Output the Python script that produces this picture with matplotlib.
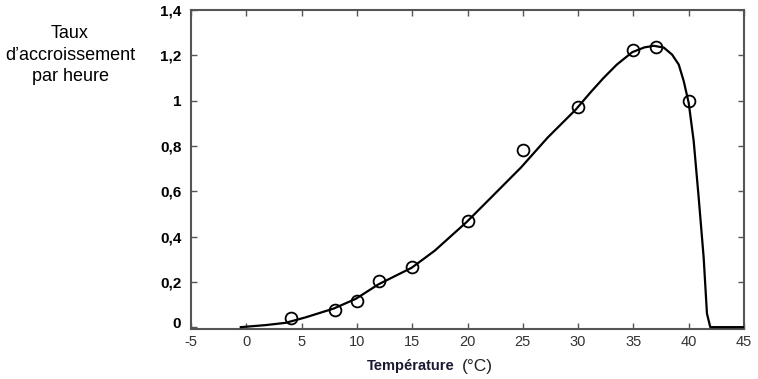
import matplotlib
matplotlib.use("Agg")
import matplotlib.pyplot as plt
from matplotlib.transforms import ScaledTranslation

# Measured points (temperature °C, growth rate per hour)
temp_points = [4, 8, 10, 12, 15, 20, 25, 30, 35, 37, 40]
rate_points = [0.04, 0.075, 0.115, 0.205, 0.265, 0.468, 0.78, 0.972, 1.222, 1.236, 1.0]

# Fitted curve, values
temp_curve = [-0.5, 0.0, 1.75, 3.55, 5.35, 7.9, 9.9, 11.95, 14.95, 17.05, 18.55, 19.9,
              22.15, 24.84, 27.25, 29.8, 31.1, 32.3, 33.5, 34.9, 36.0, 36.85, 37.75,
              38.5, 39.1, 39.55, 40.0, 40.45, 40.9, 41.35, 41.65, 41.95, 45.0]
rate_curve = [0.0, 0.002, 0.009, 0.019, 0.043, 0.082, 0.125, 0.189, 0.262, 0.338, 0.404, 0.463,
              0.573, 0.705, 0.837, 0.961, 1.035, 1.1, 1.159, 1.214, 1.235, 1.242, 1.234,
              1.203, 1.159, 1.086, 0.99, 0.822, 0.573, 0.309, 0.06, 0.0, 0.0]

x_ticks = [-5, 0, 5, 10, 15, 20, 25, 30, 35, 40, 45]
y_ticks = [0, 0.2, 0.4, 0.6, 0.8, 1.0, 1.2, 1.4]
y_tick_labels = ["0", "0,2", "0,4", "0,6", "0,8", "1", "1,2", "1,4"]

fig = plt.figure(figsize=(7.58, 3.79), dpi=100)
ax = fig.add_axes([191 / 758, 1 - 328.5 / 379, (744 - 191) / 758, (328.5 - 10) / 379])

ax.plot(temp_curve, rate_curve, color="black", lw=1.6, solid_joinstyle="round", zorder=3)
ax.plot(temp_points, rate_points, linestyle="none", marker="o", markersize=8.5,
        markerfacecolor="none", markeredgecolor="black", markeredgewidth=1.3, zorder=4)

ax.set_xlim(-5, 44.8)
ax.set_ylim(-0.006, 1.395)

ax.set_xticks(x_ticks)
ax.set_xticklabels([str(t) for t in x_ticks], family="Liberation Sans", fontsize=10.5, color="#333333")
ax.set_yticks(y_ticks)
ax.set_yticklabels(y_tick_labels, family="Liberation Sans", fontsize=11, fontweight="bold", color="black")

ax.tick_params(axis="both", direction="in", length=4, width=1, color="#555555",
               top=True, right=True, labeltop=False, labelright=False)
ax.tick_params(axis="x", pad=5)
ax.tick_params(axis="y", pad=7)
for s in ax.spines.values():
    s.set_color("#555555")
    s.set_linewidth(1.5)

# the "0" label sits a little above its tick in the reference
zero_lbl = ax.get_yticklabels()[0]
zero_lbl.set_transform(zero_lbl.get_transform() + ScaledTranslation(0, 5 / 100, fig.dpi_scale_trans))

fig.text(70 / 758, 1 - 55 / 379, "Taux\nd\u2019accroissement\npar heure", ha="center", va="center",
         family="Liberation Sans", fontsize=13, linespacing=1.35, color="black")

fig.text(455 / 758, 1 - 366 / 379, "Température", ha="right", va="center",
         family="Liberation Sans", fontsize=10.5, fontweight="bold", color="#1a1a33")
fig.text(462 / 758, 1 - 366 / 379, "(°C)", ha="left", va="center",
         family="Liberation Sans", fontsize=12.5, color="#222222")

fig.savefig("out.png", dpi=100)
